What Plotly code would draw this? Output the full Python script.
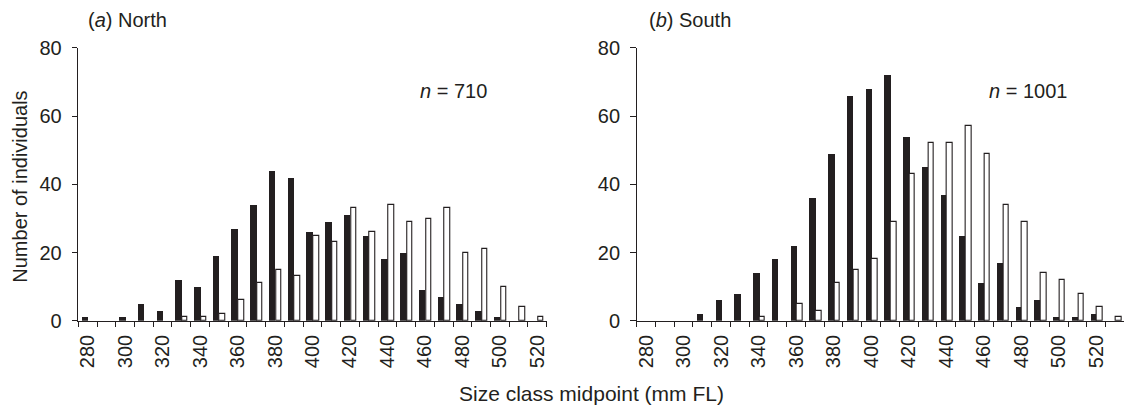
import plotly.graph_objects as go

# ---- data ----
north_sizes = [280, 290, 300, 310, 320, 330, 340, 350, 360, 370, 380, 390, 400,
               410, 420, 430, 440, 450, 460, 470, 480, 490, 500, 510, 520]
north_black = [1, 0, 1, 5, 3, 12, 10, 19, 27, 34, 44, 42, 26,
               29, 31, 25, 18, 20, 9, 7, 5, 3, 1, 0, 0]
north_white = [0, 0, 0, 0, 0, 1, 1, 2, 6, 11, 15, 13, 25,
               23, 33, 26, 34, 29, 30, 33, 20, 21, 10, 4, 1]

south_sizes = [280, 290, 300, 310, 320, 330, 340, 350, 360, 370, 380, 390, 400,
               410, 420, 430, 440, 450, 460, 470, 480, 490, 500, 510, 520, 530]
south_black = [0, 0, 0, 2, 6, 8, 14, 18, 22, 36, 49, 66, 68,
               72, 54, 45, 37, 25, 11, 17, 4, 6, 1, 1, 2, 0]
south_white = [0, 0, 0, 0, 0, 0, 1, 0, 5, 3, 11, 15, 18,
               29, 43, 52, 52, 57, 49, 34, 29, 14, 12, 8, 4, 1]

y_ticks = [0, 20, 40, 60, 80]
panel_titles = ["(<i>a</i>) North", "(<i>b</i>) South"]
n_labels = ["<i>n</i> = 710", "<i>n</i> = 1001"]
x_title = "Size class midpoint (mm FL)"
y_title = "Number of individuals"

W, H = 1125, 407
INK = "#231f20"
FONT = "Liberation Sans, Arial, Helvetica, sans-serif"
FS = 20


def nz(vals):
    # empty classes draw no bar
    return [v if v else None for v in vals]


fig = go.Figure()

panels = [
    (north_sizes, north_black, north_white, "x", "y"),
    (south_sizes, south_black, south_white, "x2", "y2"),
]
for sizes, blk, wht, xa, ya in panels:
    cats = [str(s) for s in sizes]
    fig.add_trace(go.Bar(x=cats, y=nz(blk), xaxis=xa, yaxis=ya,
                         marker=dict(color=INK, line=dict(width=0)),
                         offset=-0.31, width=0.35, showlegend=False))
    fig.add_trace(go.Bar(x=cats, y=nz(wht), xaxis=xa, yaxis=ya,
                         marker=dict(color="white", line=dict(color=INK, width=1.1)),
                         offset=0.05, width=0.29, showlegend=False))

ydom = [1 - 320.7 / H, 1 - 47.9 / H]
xdoms = [[78.3 / W, 546.7 / W], [636.7 / W, 1124.3 / W]]

common_x = dict(type="category", showline=True, linecolor=INK, linewidth=1.3,
                ticks="outside", ticklen=5, tickcolor=INK, tickwidth=1.2,
                tickson="boundaries", tickangle=-90, showgrid=False, zeroline=False,
                tickfont=dict(family=FONT, size=FS, color=INK),
                ticklabelstandoff=5)
common_y = dict(range=[0, 80], showline=True, linecolor=INK, linewidth=1.3,
                ticks="outside", ticklen=5.5, tickcolor=INK, tickwidth=1.2,
                tickvals=y_ticks, showgrid=False, zeroline=False,
                tickfont=dict(family=FONT, size=FS, color=INK),
                ticklabelstandoff=6, domain=ydom)

for i, sizes in enumerate([north_sizes, south_sizes]):
    cats = [str(s) for s in sizes]
    ttext = [c if s % 20 == 0 else "" for c, s in zip(cats, sizes)]
    xk = "xaxis" if i == 0 else "xaxis2"
    yk = "yaxis" if i == 0 else "yaxis2"
    fig.update_layout({
        xk: dict(common_x, domain=xdoms[i], anchor="y" if i == 0 else "y2",
                 range=[-0.5, len(cats) - 0.5], tickmode="array",
                 tickvals=cats, ticktext=ttext, categoryorder="array",
                 categoryarray=cats),
        yk: dict(common_y, anchor="x" if i == 0 else "x2"),
    })

ann = []
title_x = [86, 646.7]
n_x = [418, 986.7]
for i in range(2):
    ann.append(dict(text=panel_titles[i], x=title_x[i] / W, y=1 - 20 / H,
                    xref="paper", yref="paper", xanchor="left", yanchor="middle",
                    showarrow=False, font=dict(family=FONT, size=FS, color=INK)))
    ann.append(dict(text=n_labels[i], x=n_x[i] / W, y=1 - 90.7 / H,
                    xref="paper", yref="paper", xanchor="left", yanchor="middle",
                    showarrow=False, font=dict(family=FONT, size=FS, color=INK)))
ann.append(dict(text=x_title, x=591.5 / W, y=1 - 393 / H, xref="paper", yref="paper",
                xanchor="center", yanchor="middle", showarrow=False,
                font=dict(family=FONT, size=21, color=INK)))
ann.append(dict(text=y_title, x=19.7 / W, y=1 - 187 / H, xref="paper", yref="paper",
                xanchor="center", yanchor="middle", textangle=-90, showarrow=False,
                font=dict(family=FONT, size=FS, color=INK)))

fig.update_layout(width=W, height=H, margin=dict(l=0, r=0, t=0, b=0),
                  paper_bgcolor="white", plot_bgcolor="white",
                  barmode="overlay", bargap=0, annotations=ann,
                  template="none")

fig.write_html("out.html")
